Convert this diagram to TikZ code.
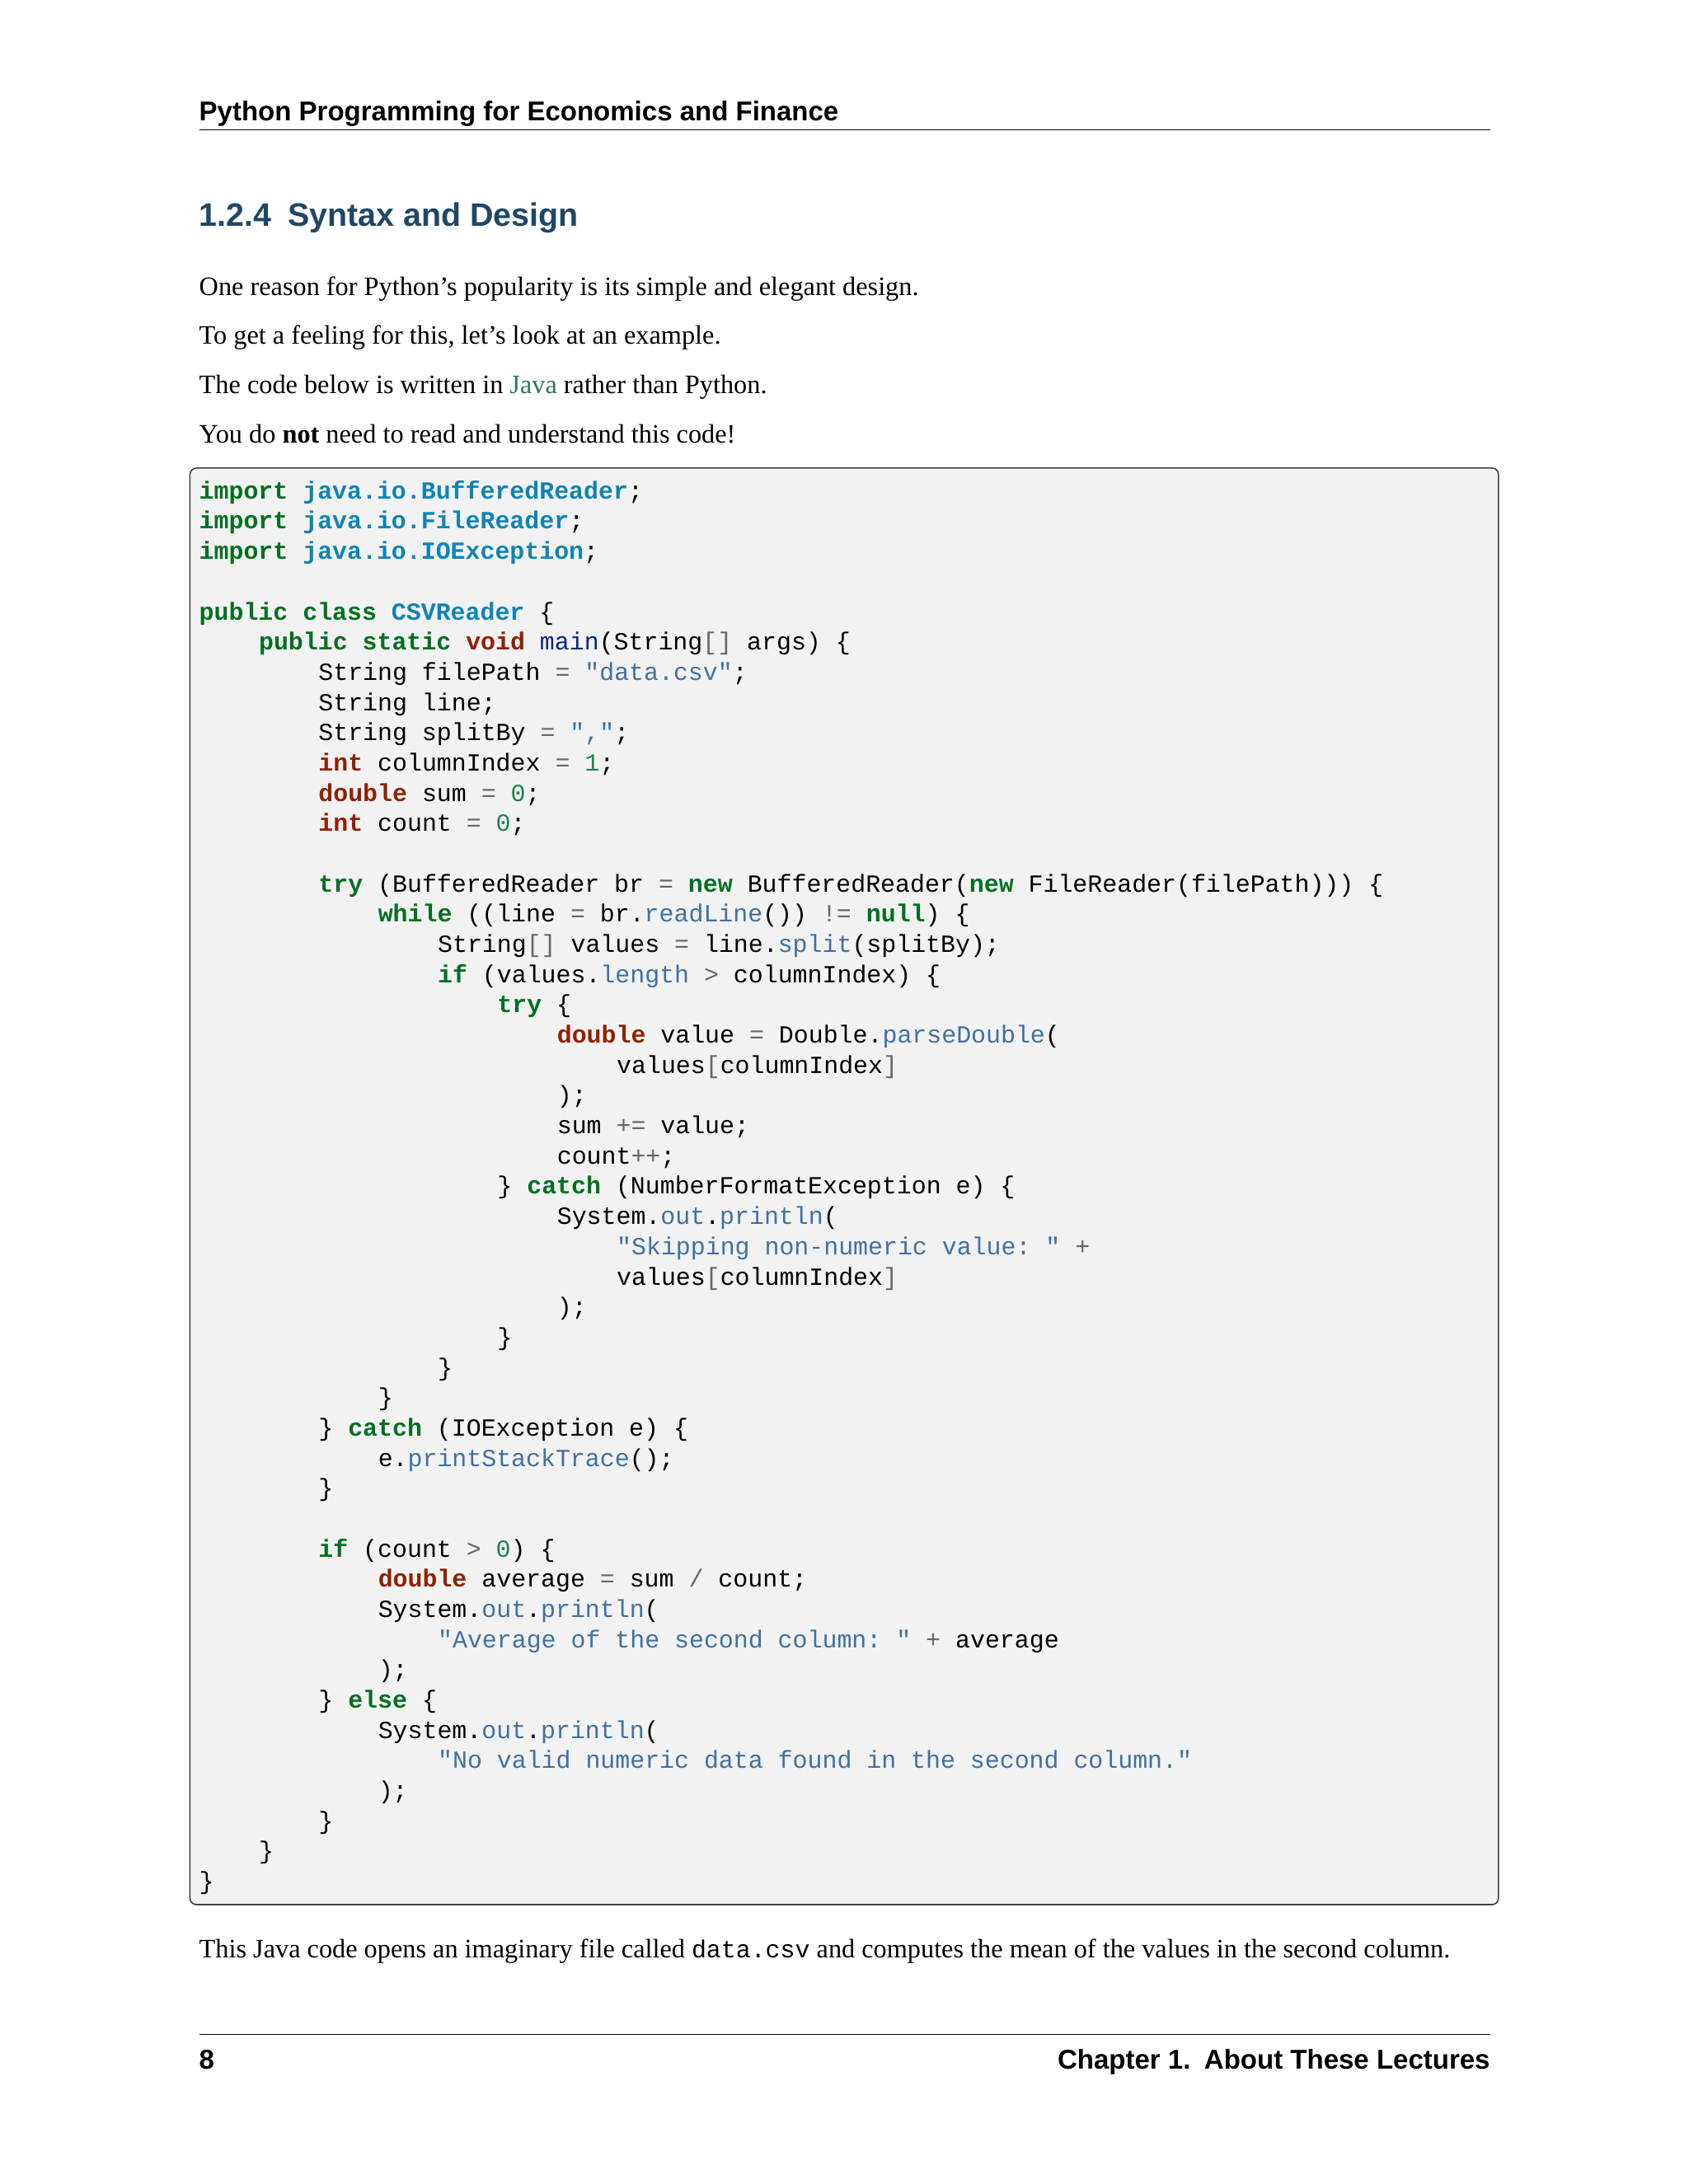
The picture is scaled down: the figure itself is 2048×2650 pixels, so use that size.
\documentclass[tikz,border=0pt]{standalone}
\usepackage{fontspec}
\setmainfont{Liberation Serif}
\setsansfont{Liberation Sans}
\setmonofont{Liberation Mono}
\definecolor{kw}{HTML}{007020}
\definecolor{ty}{HTML}{902000}
\definecolor{cl}{HTML}{0E84B5}
\definecolor{st}{HTML}{4070A0}
\definecolor{nu}{HTML}{208050}
\definecolor{op}{HTML}{666666}
\definecolor{fn}{HTML}{06287E}
\definecolor{at}{HTML}{4070A0}
\definecolor{hd}{HTML}{1F4766}
\definecolor{lk}{HTML}{2C7A55}
\definecolor{bg}{HTML}{F2F2F2}
\newcommand{\K}[1]{\textcolor{kw}{\bfseries #1}}
\newcommand{\T}[1]{\textcolor{ty}{\bfseries #1}}
\newcommand{\C}[1]{\textcolor{cl}{\bfseries #1}}
\newcommand{\Sx}[1]{\textcolor{st}{#1}}
\newcommand{\Nx}[1]{\textcolor{nu}{#1}}
\newcommand{\Ox}[1]{\textcolor{op}{#1}}
\newcommand{\Fx}[1]{\textcolor{fn}{#1}}
\newcommand{\Ax}[1]{\textcolor{at}{#1}}
\tikzset{
  codeln/.style={anchor=base west,inner sep=0pt,font=\fontsize{29.9pt}{36pt}\ttfamily},
  bodytxt/.style={anchor=base west,inner sep=0pt,font=\fontsize{32.3pt}{40pt}\selectfont},
  headtxt/.style={inner sep=0pt,font=\fontsize{33pt}{40pt}\sffamily\bfseries},
}
\newcommand{\cl}[3]{\node[codeln] (c#1) at ({239+#2*71.6},{599+(#1-1)*36.3}) {#3};}
\begin{document}
\begin{tikzpicture}[x=1pt,y=-1pt]
\useasboundingbox[fill=white] (0,0) rectangle (2048,2650);
\begin{scope}[scale=1.0105]
\node[headtxt,anchor=base west] (hdr) at (239,145) {Python Programming for Economics and Finance};
\draw[line width=1.5pt] (239,156) -- (1789,156);
\node[anchor=base west,inner sep=0pt,font=\fontsize{39.4pt}{48pt}\sffamily\bfseries,text=hd] (sec) at (239,272) {1.2.4\hspace{0.5em}Syntax and Design};
\node[bodytxt] (p1) at (239,355) {One reason for Python’s popularity is its simple and elegant design.};
\node[bodytxt] (p2) at (239,413) {To get a feeling for this, let’s look at an example.};
\node[bodytxt] (p3) at (239,473) {The code below is written in \textcolor{lk}{Java} rather than Python.};
\node[bodytxt] (p4) at (239,532) {You do \textbf{not} need to read and understand this code!};
\draw[fill=bg,draw=black!75,line width=1.6pt,rounded corners=8pt] (228,562) rectangle (1799,2287);
\cl{1}{0}{\K{import} \C{java.io.BufferedReader};}
\cl{2}{0}{\K{import} \C{java.io.FileReader};}
\cl{3}{0}{\K{import} \C{java.io.IOException};}
\cl{5}{0}{\K{public} \K{class} \C{CSVReader} \{}
\cl{6}{1}{\K{public} \K{static} \T{void} \Fx{main}(String\Ox{[]} args) \{}
\cl{7}{2}{String filePath \Ox{=} \Sx{"data.csv"};}
\cl{8}{2}{String line;}
\cl{9}{2}{String splitBy \Ox{=} \Sx{","};}
\cl{10}{2}{\T{int} columnIndex \Ox{=} \Nx{1};}
\cl{11}{2}{\T{double} sum \Ox{=} \Nx{0};}
\cl{12}{2}{\T{int} count \Ox{=} \Nx{0};}
\cl{14}{2}{\K{try} (BufferedReader br \Ox{=} \K{new} BufferedReader(\K{new} FileReader(filePath))) \{}
\cl{15}{3}{\K{while} ((line \Ox{=} br.\Ax{readLine}()) \Ox{!=} \K{null}) \{}
\cl{16}{4}{String\Ox{[]} values \Ox{=} line.\Ax{split}(splitBy);}
\cl{17}{4}{\K{if} (values.\Ax{length} \Ox{>} columnIndex) \{}
\cl{18}{5}{\K{try} \{}
\cl{19}{6}{\T{double} value \Ox{=} Double.\Ax{parseDouble}(}
\cl{20}{7}{values\Ox{[}columnIndex\Ox{]}}
\cl{21}{6}{);}
\cl{22}{6}{sum \Ox{+=} value;}
\cl{23}{6}{count\Ox{++};}
\cl{24}{5}{\} \K{catch} (NumberFormatException e) \{}
\cl{25}{6}{System.\Ax{out}.\Ax{println}(}
\cl{26}{7}{\Sx{"Skipping non-numeric value: "} \Ox{+}}
\cl{27}{7}{values\Ox{[}columnIndex\Ox{]}}
\cl{28}{6}{);}
\cl{29}{5}{\}}
\cl{30}{4}{\}}
\cl{31}{3}{\}}
\cl{32}{2}{\} \K{catch} (IOException e) \{}
\cl{33}{3}{e.\Ax{printStackTrace}();}
\cl{34}{2}{\}}
\cl{36}{2}{\K{if} (count \Ox{>} \Nx{0}) \{}
\cl{37}{3}{\T{double} average \Ox{=} sum \Ox{/} count;}
\cl{38}{3}{System.\Ax{out}.\Ax{println}(}
\cl{39}{4}{\Sx{"Average of the second column: "} \Ox{+} average}
\cl{40}{3}{);}
\cl{41}{2}{\} \K{else} \{}
\cl{42}{3}{System.\Ax{out}.\Ax{println}(}
\cl{43}{4}{\Sx{"No valid numeric data found in the second column."}}
\cl{44}{3}{);}
\cl{45}{2}{\}}
\cl{46}{1}{\}}
\cl{47}{0}{\}}
\node[bodytxt] (p5) at (239,2351) {This Java code opens an imaginary file called {\fontsize{29.9pt}{36pt}\ttfamily data.csv} and computes the mean of the values in the second column.};
\draw[line width=1.5pt] (239,2443) -- (1789,2443);
\node[headtxt,anchor=base west] (pg) at (239,2484) {8};
\node[headtxt,anchor=base east] (ch) at (1789,2484) {Chapter 1.\hspace{0.5em}About These Lectures};
\end{scope}
\end{tikzpicture}
\end{document}
